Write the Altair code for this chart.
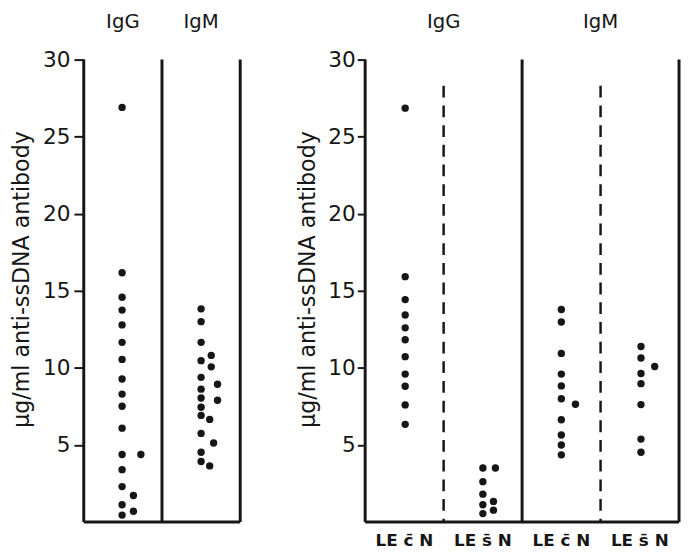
import altair as alt
import pandas as pd

# ---------------- data (μg/ml anti-ssDNA antibody) ----------------
y_title = "\u03bcg/ml anti-ssDNA antibody"
y_ticks = [5, 10, 15, 20, 25, 30]

# Left panel: all sera, IgG and IgM
left_top = ["IgG", "IgM"]
igg_all = [26.9, 16.17, 14.58, 13.75, 12.79, 11.66, 10.55, 9.28, 8.3, 7.51, 6.09,
           4.38, 3.40, 2.30, 1.12, 0.45, 4.38, 1.72, 0.70]
igg_all_pos = [0.49] * 16 + [0.73, 0.635, 0.635]   # horizontal place inside the column
igm_all = [13.83, 13.0, 11.66, 10.47, 9.39, 8.62, 8.05, 7.45, 6.92, 5.75, 4.53, 3.93,
           10.81, 10.07, 8.94, 7.9, 6.66, 5.13, 3.64]
igm_all_pos = [0.5] * 12 + [0.63, 0.63, 0.71, 0.71, 0.61, 0.66, 0.61]

# Right panel: LE with (c-bar) and without (s-bar) nephritis
right_top = ["IgG", "IgM"]
bottom_labels = ["LE c\u0304 N", "LE s\u0304 N", "LE c\u0304 N", "LE s\u0304 N"]
igg_cn = [26.85, 15.92, 14.43, 13.43, 12.6, 11.83, 10.73, 9.6, 8.81, 7.6, 6.34]
igg_cn_pos = [0.51] * 11
igg_sn = [3.51, 2.62, 1.81, 1.12, 0.55, 3.51, 1.34, 0.77]
igg_sn_pos = [0.5] * 5 + [0.66, 0.635, 0.635]
igm_cn = [13.79, 12.98, 10.94, 9.6, 8.83, 8.0, 6.64, 5.65, 5.0, 4.36, 7.64]
igm_cn_pos = [0.5] * 10 + [0.68]
igm_sn = [11.39, 10.64, 9.64, 8.98, 7.62, 5.38, 4.53, 10.09]
igm_sn_pos = [0.515] * 7 + [0.69]

dash_top = 28.3

FONT = "DejaVu Sans"
INK = "#161616"


def pts_frame(groups):
    rows = []
    for gi, (vals, pos) in enumerate(groups):
        for v, p in zip(vals, pos):
            rows.append({"x": gi + p, "v": v})
    return pd.DataFrame(rows)


def panel(points, n, top_labels, top_x, solid_x, dashed_x, bottoms, width, axis_kw):
    xs = alt.Scale(domain=[0, n], nice=False, zero=False)
    ys = alt.Scale(domain=[0, 30], nice=False)
    X = alt.X("x:Q", scale=xs, axis=None)
    Y = alt.Y("v:Q", scale=ys,
              axis=alt.Axis(values=y_ticks, title=y_title, **axis_kw))

    solid = pd.DataFrame(
        [{"x": sx, "x2": sx, "v": 0, "v2": 30} for sx in solid_x]
        + [{"x": 0, "x2": n, "v": 0, "v2": 0}]
    )
    dashed = pd.DataFrame([{"x": dx, "x2": dx, "v": dash_top, "v2": 0} for dx in dashed_x])

    layers = [
        alt.Chart(solid).mark_rule(color=INK, strokeWidth=3).encode(
            x=X, x2=alt.X2("x2:Q"), y=Y, y2=alt.Y2("v2:Q")),
    ]
    if len(dashed):
        layers.append(
            alt.Chart(dashed).mark_rule(color=INK, strokeWidth=2.5, strokeDash=[12, 8]).encode(
                x=X, x2=alt.X2("x2:Q"), y=Y, y2=alt.Y2("v2:Q")))
    layers.append(
        alt.Chart(points).mark_circle(color=INK, opacity=1, size=56).encode(x=X, y=Y))
    layers.append(
        alt.Chart(pd.DataFrame({"x": top_x, "label": top_labels}))
        .mark_text(font=FONT, fontSize=20, color=INK, baseline="alphabetic")
        .encode(x=X, y=alt.value(-32), text="label:N"))
    if bottoms:
        layers.append(
            alt.Chart(pd.DataFrame({"x": [i + 0.5 for i in range(len(bottoms))], "label": bottoms}))
            .mark_text(font=FONT, fontSize=17, fontWeight="bold", color=INK, baseline="alphabetic")
            .encode(x=X, y=alt.value(494), text="label:N"))
    return alt.layer(*layers).properties(width=width, height=470)


left_df = pts_frame([(igg_all, igg_all_pos), (igm_all, igm_all_pos)])
right_df = pts_frame([(igg_cn, igg_cn_pos), (igg_sn, igg_sn_pos),
                      (igm_cn, igm_cn_pos), (igm_sn, igm_sn_pos)])

left = panel(left_df, 2, left_top, [0.5, 1.5], [0, 1, 2], [], None, 159,
             dict(tickSize=10, labelPadding=4, titlePadding=9, titleY=223))
right = panel(right_df, 4, right_top, [1.0, 3.0], [0, 2, 4], [1, 3], bottom_labels, 319,
              dict(tickSize=8, labelPadding=2, titlePadding=8, titleY=223))

chart = (
    alt.hconcat(left, right, spacing=56)
    .configure(padding={"left": 3, "top": 0, "right": 0, "bottom": 0}, background="white")
    .configure_view(stroke=None)
    .configure_axis(
        domain=False, grid=False, ticks=True, tickColor=INK, tickWidth=2,
        labelFont=FONT, labelFontSize=22, labelColor=INK,
        titleFont=FONT, titleFontSize=22.5, titleFontWeight="normal", titleColor=INK,
    )
)

chart.save("out.html", embed_options={"renderer": "svg", "actions": False})
